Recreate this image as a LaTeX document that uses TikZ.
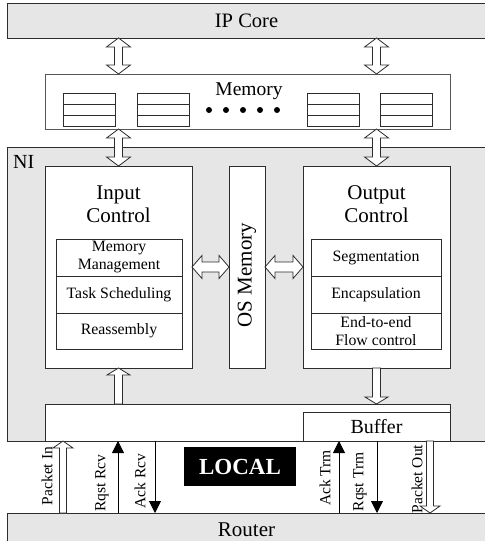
\documentclass[tikz,border=0pt]{standalone}
\usepackage{fontspec}
\setmainfont{Liberation Serif}
\usetikzlibrary{arrows.meta, positioning, calc}

\definecolor{nigray}{RGB}{230, 230, 230}
\definecolor{edge}{RGB}{45, 45, 45}
\newcommand{\txtsize}[2]{\fontsize{#1}{#2}\selectfont}

\begin{document}
\begin{tikzpicture}[
  x=1pt, y=-1pt,
  box/.style={draw=edge, fill=white, line width=0.8pt, inner sep=0pt, outer sep=0pt},
  band/.style={draw=edge, fill=nigray, line width=0.8pt, inner sep=0pt, outer sep=0pt},
  ctrl/.style={box, minimum width=147pt, minimum height=202pt},
  title/.style={align=center, inner sep=0pt, font=\txtsize{21}{23}},
  cell/.style={box, align=center, inner sep=1pt, font=\txtsize{15.8}{18}},
  sig/.style={draw=black, line width=0.8pt, -{Triangle[length=12pt, width=12pt]}},
  siglabel/.style={rotate=90, inner sep=0pt, font=\txtsize{15.5}{17}},
  ashaft/.store in=\ashaft, ahead/.store in=\ahead, alen/.store in=\alen,
  ashaft=4pt, ahead=11.5pt, alen=8pt,
  % block arrow, head at the target only
  hollow/.style={draw=edge, fill=white, line width=0.8pt,
    to path={($(\tikztostart)!\ashaft!90:(\tikztotarget)$)
      -- ($(\tikztotarget)!\alen!(\tikztostart)!\ashaft!-90:(\tikztostart)$)
      -- ($(\tikztotarget)!\alen!(\tikztostart)!\ahead!-90:(\tikztostart)$)
      -- (\tikztotarget)
      -- ($(\tikztotarget)!\alen!(\tikztostart)!\ahead!90:(\tikztostart)$)
      -- ($(\tikztotarget)!\alen!(\tikztostart)!\ashaft!90:(\tikztostart)$)
      -- ($(\tikztostart)!\ashaft!-90:(\tikztotarget)$) -- cycle}},
  % block arrow, heads at both ends
  dblhollow/.style={draw=edge, fill=white, line width=0.8pt,
    to path={-- ($(\tikztostart)!\alen!(\tikztotarget)!\ahead!90:(\tikztotarget)$)
      -- ($(\tikztostart)!\alen!(\tikztotarget)!\ashaft!90:(\tikztotarget)$)
      -- ($(\tikztotarget)!\alen!(\tikztostart)!\ashaft!-90:(\tikztostart)$)
      -- ($(\tikztotarget)!\alen!(\tikztostart)!\ahead!-90:(\tikztostart)$)
      -- (\tikztotarget)
      -- ($(\tikztotarget)!\alen!(\tikztostart)!\ahead!90:(\tikztostart)$)
      -- ($(\tikztotarget)!\alen!(\tikztostart)!\ashaft!90:(\tikztostart)$)
      -- ($(\tikztostart)!\alen!(\tikztotarget)!\ashaft!-90:(\tikztotarget)$)
      -- ($(\tikztostart)!\alen!(\tikztotarget)!\ahead!-90:(\tikztotarget)$)
      -- cycle}}
]
  \useasboundingbox (0,0) rectangle (484,548);

  % IP core and shared memory
  \node[band, minimum width=479pt, minimum height=35pt, anchor=north west,
        font=\txtsize{20.5}{23}] (ipcore) at (7,3) {IP Core};
  \node[box, draw=edge!80, minimum width=405pt, minimum height=55pt] (memory) at (247.5,101.5) {};
  \node[anchor=base, inner sep=0pt, font=\txtsize{19.5}{22}] (memtitle) at (249,96) {Memory};
  \foreach \sx in {63,137,307,380} {
    \draw[edge, line width=0.8pt] (\sx,93) rectangle ++(52,33)
      (\sx,104) -- ++(52,0) (\sx,115) -- ++(52,0);
  }
  \foreach \dx in {0,...,4}
    \fill (209+17*\dx,110) circle (3pt);

  % network interface
  \node[band, minimum width=479pt, minimum height=294pt, anchor=north west] (ni) at (7,147) {};
  \node[anchor=base west, inner sep=0pt, font=\txtsize{20}{22}] (nititle) at (13,168) {NI};

  \node[ctrl] (inctrl) at (118.5,267) {};
  \node[title] (intitle) at (118.5,204.5) {Input\\Control};
  \node[cell, minimum width=126pt, minimum height=37pt] (memmgmt) at (119,257.5) {Memory\\Management};
  \node[cell, minimum width=126pt, minimum height=37pt, below=0pt of memmgmt] (tasksched) {Task Scheduling};
  \node[cell, minimum width=126pt, minimum height=36pt, below=0pt of tasksched] (reasm) {Reassembly};

  \node[box, minimum width=36pt, minimum height=202pt] (osmem) at (247,267) {};
  \node[title, rotate=90] (ostitle) at (247,275) {OS Memory};

  \node[ctrl] (outctrl) at (376.5,267) {};
  \node[title] (outtitle) at (376.5,204.5) {Output\\Control};
  \node[cell, minimum width=130pt, minimum height=37pt] (segm) at (376,257.5) {Segmentation};
  \node[cell, minimum width=130pt, minimum height=37pt, below=0pt of segm] (encap) {Encapsulation};
  \node[cell, minimum width=130pt, minimum height=36pt, below=0pt of encap] (flowctl) {End-to-end\\Flow control};

  \node[box, minimum width=405pt, minimum height=37pt, anchor=north west] (bar) at (45,404) {};
  \node[box, minimum width=147pt, minimum height=29pt, anchor=south east,
        font=\txtsize{20}{22}] (buffer) at (bar.south east) {Buffer};

  % local link to the router
  \node[fill=black, text=white, minimum width=112pt, minimum height=39pt,
        font=\bfseries\txtsize{23}{25}] (local) at (240,466.5) {LOCAL};
  \node[fill=nigray, minimum width=479pt, minimum height=28pt, inner sep=0pt, outer sep=0pt,
        text height=20pt, anchor=north west, font=\txtsize{21}{23}] (router) at (7,513) {Router};
  \draw[edge, line width=0.8pt] (router.south west) |- (router.north east);

  % block arrows
  \draw[dblhollow, ashaft=4pt, ahead=12pt, alen=9pt] (ipcore.south -| inctrl) to (memory.north -| inctrl);
  \draw[dblhollow, ashaft=4pt, ahead=12pt, alen=9pt] (ipcore.south -| outctrl) to (memory.north -| outctrl);
  \draw[dblhollow, ashaft=4pt, ahead=12pt, alen=9pt] (memory.south -| inctrl) to (inctrl.north);
  \draw[dblhollow, ashaft=4pt, ahead=12pt, alen=9pt] (memory.south -| outctrl) to (outctrl.north);
  \draw[dblhollow, ashaft=5pt, ahead=11.5pt, alen=10pt] (inctrl.east) to (osmem.west);
  \draw[dblhollow, ashaft=5pt, ahead=11.5pt, alen=10pt] (osmem.east) to (outctrl.west);
  \draw[hollow, alen=7pt] (bar.north -| inctrl) to (inctrl.south);
  \draw[hollow, alen=7pt] (outctrl.south) to (bar.north -| outctrl);

  % handshake signals
  \coordinate (pin) at (63,441);
  \coordinate (rqrcv) at (118,441);
  \coordinate (ackrcv) at (155,441);
  \coordinate (acktrm) at (339,441);
  \coordinate (rqtrm) at (377,441);
  \coordinate (pout) at (430,441);

  \draw[hollow, ashaft=3.5pt, ahead=10pt, alen=7pt] (router.north -| pin) to (pin);
  \draw[sig] (router.north -| rqrcv) -- (rqrcv);
  \draw[sig] (ackrcv) -- (router.north -| ackrcv);
  \draw[sig] (router.north -| acktrm) -- (acktrm);
  \draw[sig] (rqtrm) -- (router.north -| rqtrm);
  \draw[hollow, ashaft=3.5pt, ahead=10pt, alen=7pt] (pout) to (router.north -| pout);

  \node[siglabel] (lpin) at (47,476) {Packet In};
  \node[siglabel] (lrqrcv) at (102,483) {Rqst Rcv};
  \node[siglabel] (lackrcv) at (140,481) {Ack Rcv};
  \node[siglabel] (lacktrm) at (325,478) {Ack Trm};
  \node[siglabel] (lrqtrm) at (360,482) {Rqst Trm};
  \node[siglabel] (lpout) at (417,479) {Packet Out};
\end{tikzpicture}
\end{document}
